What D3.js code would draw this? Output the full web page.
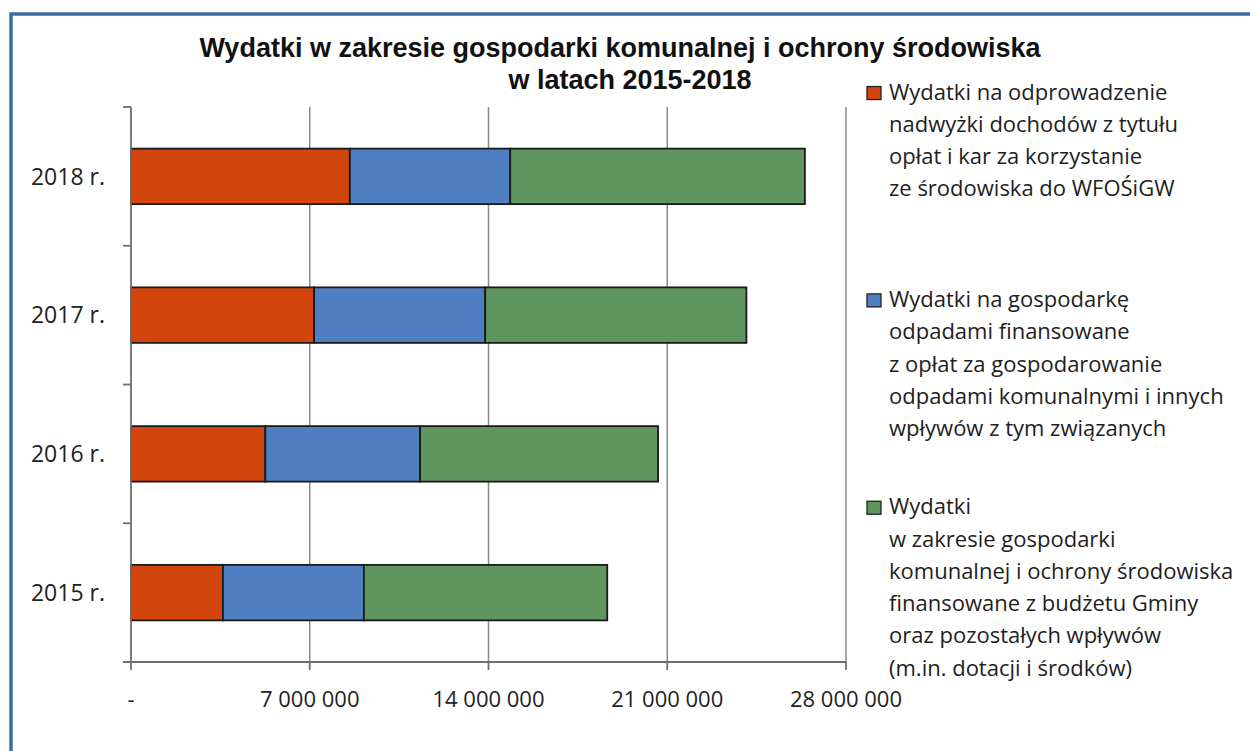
<!DOCTYPE html>
<meta charset="utf-8">
<script src="https://d3js.org/d3.v7.min.js"></script>
<style>
  body { margin: 0; background: #fdfdfd; }
  svg { display: block; }
</style>
<div id="chart"></div>
<script>
// data
var years = ["2018 r.", "2017 r.", "2016 r.", "2015 r."];
var wfos = [8570000, 7170000, 5260000, 3600000];
var odpady = [6280000, 6700000, 6060000, 5520000];
var budzet = [11540000, 10230000, 9320000, 9530000];
var seriesKeys = ["wfos", "odpady", "budzet"];
var seriesColors = ["#d2450d", "#4f7fc0", "#5f9660"];
var legendLines = [
  ["Wydatki na odprowadzenie", "nadwyżki dochodów z tytułu", "opłat i kar za korzystanie", "ze środowiska do WFOŚiGW"],
  ["Wydatki na gospodarkę", "odpadami finansowane", "z opłat za gospodarowanie", "odpadami komunalnymi i innych", "wpływów z tym związanych"],
  ["Wydatki", "w zakresie gospodarki", "komunalnej i ochrony środowiska", "finansowane z budżetu Gminy", "oraz pozostałych wpływów", "(m.in. dotacji i środków)"]
];
var xTicks = [0, 7000000, 14000000, 21000000, 28000000];

var W = 1250, H = 751;
var plot = {left: 131, right: 846, top: 107, bottom: 662};

var svg = d3.select("#chart").append("svg")
    .attr("width", W)
    .attr("height", H);

// frame
svg.append("rect")
    .attr("x", 11).attr("y", 14)
    .attr("width", W + 20).attr("height", H + 20)
    .attr("fill", "#ffffff")
    .attr("stroke", "#3b6da6")
    .attr("stroke-width", 3.5);

// title
svg.append("text")
    .attr("x", 620).attr("y", 57)
    .attr("text-anchor", "middle")
    .style("font-family", "'Liberation Sans', Arial, sans-serif")
    .style("font-weight", "bold")
    .style("font-size", "27px")
    .attr("fill", "#111")
    .text("Wydatki w zakresie gospodarki komunalnej i ochrony środowiska");
svg.append("text")
    .attr("x", 630).attr("y", 89)
    .attr("text-anchor", "middle")
    .style("font-family", "'Liberation Sans', Arial, sans-serif")
    .style("font-weight", "bold")
    .style("font-size", "27px")
    .attr("fill", "#111")
    .text("w latach 2015-2018");

// scales
var x = d3.scaleLinear()
    .domain([0, 28000000])
    .range([plot.left, plot.right]);
var y = d3.scaleBand()
    .domain(years)
    .range([plot.top, plot.bottom])
    .paddingInner(0.6)
    .paddingOuter(0.3);

// gridlines
svg.append("g")
  .selectAll("line")
  .data(xTicks.slice(1))
  .enter()
  .append("line")
    .attr("x1", function(d) { return x(d); })
    .attr("x2", function(d) { return x(d); })
    .attr("y1", plot.top)
    .attr("y2", plot.bottom)
    .attr("stroke", "#8a8a8a")
    .attr("stroke-width", 1.5);

// stacked bars
var table = years.map(function(yr, i) {
  return {year: yr, wfos: wfos[i], odpady: odpady[i], budzet: budzet[i]};
});
var stack = d3.stack().keys(seriesKeys)(table);

svg.append("g")
  .selectAll("g")
  .data(stack)
  .enter()
  .append("g")
    .attr("fill", function(d, i) { return seriesColors[i]; })
  .selectAll("rect")
  .data(function(d) { return d; })
  .enter()
  .append("rect")
    .attr("x", function(d) { return x(d[0]); })
    .attr("y", function(d) { return y(d.data.year); })
    .attr("width", function(d) { return x(d[1]) - x(d[0]); })
    .attr("height", y.bandwidth())
    .attr("stroke", "#1a1a1a")
    .attr("stroke-width", 1.8);

// Y axis
var yAxis = svg.append("g")
    .attr("transform", "translate(" + plot.left + ",0)");
yAxis.append("line")
    .attr("x1", 0).attr("x2", 0)
    .attr("y1", plot.top).attr("y2", plot.bottom)
    .attr("stroke", "#6f6f6f").attr("stroke-width", 1.8);
var yStep = (plot.bottom - plot.top) / years.length;
yAxis.selectAll(".ytick")
  .data(d3.range(years.length + 1))
  .enter()
  .append("line")
    .attr("x1", -8).attr("x2", 0)
    .attr("y1", function(d) { return plot.top + d * yStep; })
    .attr("y2", function(d) { return plot.top + d * yStep; })
    .attr("stroke", "#6f6f6f").attr("stroke-width", 1.8);
yAxis.selectAll("text")
  .data(years)
  .enter()
  .append("text")
    .attr("x", -26)
    .attr("y", function(d) { return y(d) + y.bandwidth() / 2; })
    .attr("dy", "0.36em")
    .attr("text-anchor", "end")
    .style("font-family", "'Open Sans', sans-serif")
    .style("font-size", "23px")
    .attr("fill", "#222")
    .text(function(d) { return d; });

// X axis
var xAxis = svg.append("g")
    .attr("transform", "translate(0," + plot.bottom + ")");
xAxis.append("line")
    .attr("x1", plot.left - 8).attr("x2", plot.right)
    .attr("y1", 0).attr("y2", 0)
    .attr("stroke", "#6f6f6f").attr("stroke-width", 1.8);
xAxis.selectAll(".xtick")
  .data(xTicks)
  .enter()
  .append("line")
    .attr("x1", function(d) { return x(d); })
    .attr("x2", function(d) { return x(d); })
    .attr("y1", 0).attr("y2", 8)
    .attr("stroke", "#6f6f6f").attr("stroke-width", 1.8);
var fmt = function(d) {
  if (d === 0) return "-";
  return d3.format(",")(d).replace(/,/g, " ");
};
xAxis.selectAll("text")
  .data(xTicks)
  .enter()
  .append("text")
    .attr("x", function(d) { return x(d); })
    .attr("y", 45)
    .attr("text-anchor", "middle")
    .style("font-family", "'Open Sans', sans-serif")
    .style("font-size", "22px")
    .attr("fill", "#222")
    .text(fmt);

// legend
var lineH = 32.3;
var legend = svg.append("g");
legendLines.forEach(function(lines, i) {
  var center = 148 + i * 223.5;
  var top = center - (lines.length - 1) * lineH / 2;
  var g = legend.append("g");
  g.append("rect")
    .attr("x", 867).attr("y", top - 13)
    .attr("width", 14).attr("height", 13)
    .attr("fill", seriesColors[i])
    .attr("stroke", "#222")
    .attr("stroke-width", 1.3);
  g.selectAll("text")
    .data(lines)
    .enter()
    .append("text")
      .attr("x", 889)
      .attr("y", function(d, j) { return top + j * lineH; })
      .style("font-family", "'Open Sans', sans-serif")
      .style("font-size", "22px")
      .attr("fill", "#1e1e1e")
      .text(function(d) { return d; });
});
</script>
